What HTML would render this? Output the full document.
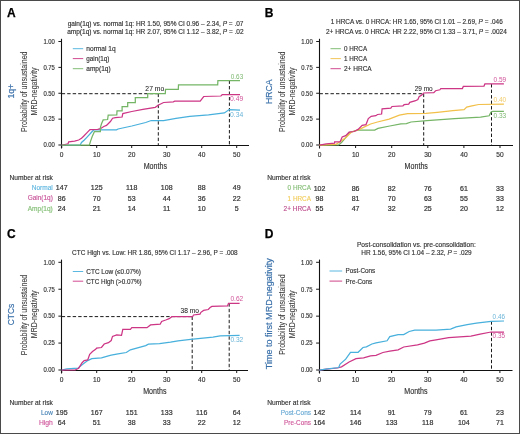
<!DOCTYPE html><html><head><meta charset="utf-8"><style>html,body{margin:0;padding:0;background:#fff;}svg{display:block;filter:blur(0.3px);}</style></head><body>
<svg width="520" height="434" viewBox="0 0 520 434" font-family='"Liberation Sans", sans-serif'>
<rect x="0" y="0" width="520" height="434" fill="#fff"/>
<text x="7.0" y="16.7" font-size="12" fill="#000" stroke="#000" stroke-width="0.25" text-anchor="start" font-weight="bold" >A</text>
<line x1="61.5" y1="38.8" x2="61.5" y2="148.5" stroke="#111" stroke-width="1.1"/>
<line x1="61.0" y1="145.5" x2="249" y2="145.5" stroke="#111" stroke-width="1.1"/>
<line x1="58.400000000000006" y1="145.0" x2="61.7" y2="145.0" stroke="#1a1a1a" stroke-width="1.0"/>
<text x="54.900000000000006" y="147.3" font-size="6.4" fill="#333" stroke="#333" stroke-width="0.15" text-anchor="end" font-weight="normal" textLength="11.5" lengthAdjust="spacingAndGlyphs" >0.00</text>
<line x1="58.400000000000006" y1="119.125" x2="61.7" y2="119.125" stroke="#1a1a1a" stroke-width="1.0"/>
<text x="54.900000000000006" y="121.425" font-size="6.4" fill="#333" stroke="#333" stroke-width="0.15" text-anchor="end" font-weight="normal" textLength="11.5" lengthAdjust="spacingAndGlyphs" >0.25</text>
<line x1="58.400000000000006" y1="93.25" x2="61.7" y2="93.25" stroke="#1a1a1a" stroke-width="1.0"/>
<text x="54.900000000000006" y="95.55" font-size="6.4" fill="#333" stroke="#333" stroke-width="0.15" text-anchor="end" font-weight="normal" textLength="11.5" lengthAdjust="spacingAndGlyphs" >0.50</text>
<line x1="58.400000000000006" y1="67.375" x2="61.7" y2="67.375" stroke="#1a1a1a" stroke-width="1.0"/>
<text x="54.900000000000006" y="69.675" font-size="6.4" fill="#333" stroke="#333" stroke-width="0.15" text-anchor="end" font-weight="normal" textLength="11.5" lengthAdjust="spacingAndGlyphs" >0.75</text>
<line x1="58.400000000000006" y1="41.5" x2="61.7" y2="41.5" stroke="#1a1a1a" stroke-width="1.0"/>
<text x="54.900000000000006" y="43.8" font-size="6.4" fill="#333" stroke="#333" stroke-width="0.15" text-anchor="end" font-weight="normal" textLength="11.5" lengthAdjust="spacingAndGlyphs" >1.00</text>
<line x1="61.7" y1="145.0" x2="61.7" y2="148.0" stroke="#1a1a1a" stroke-width="1.0"/>
<text x="61.7" y="157.1" font-size="6.6" fill="#333" stroke="#333" stroke-width="0.15" text-anchor="middle" font-weight="normal" >0</text>
<line x1="96.7" y1="145.0" x2="96.7" y2="148.0" stroke="#1a1a1a" stroke-width="1.0"/>
<text x="96.7" y="157.1" font-size="6.6" fill="#333" stroke="#333" stroke-width="0.15" text-anchor="middle" font-weight="normal" >10</text>
<line x1="131.7" y1="145.0" x2="131.7" y2="148.0" stroke="#1a1a1a" stroke-width="1.0"/>
<text x="131.7" y="157.1" font-size="6.6" fill="#333" stroke="#333" stroke-width="0.15" text-anchor="middle" font-weight="normal" >20</text>
<line x1="166.7" y1="145.0" x2="166.7" y2="148.0" stroke="#1a1a1a" stroke-width="1.0"/>
<text x="166.7" y="157.1" font-size="6.6" fill="#333" stroke="#333" stroke-width="0.15" text-anchor="middle" font-weight="normal" >30</text>
<line x1="201.7" y1="145.0" x2="201.7" y2="148.0" stroke="#1a1a1a" stroke-width="1.0"/>
<text x="201.7" y="157.1" font-size="6.6" fill="#333" stroke="#333" stroke-width="0.15" text-anchor="middle" font-weight="normal" >40</text>
<line x1="236.7" y1="145.0" x2="236.7" y2="148.0" stroke="#1a1a1a" stroke-width="1.0"/>
<text x="236.7" y="157.1" font-size="6.6" fill="#333" stroke="#333" stroke-width="0.15" text-anchor="middle" font-weight="normal" >50</text>
<text x="155.35" y="169.2" font-size="8.6" fill="#333" stroke="#333" stroke-width="0.15" text-anchor="middle" font-weight="normal" textLength="23.3" lengthAdjust="spacingAndGlyphs" >Months</text>
<text x="155.6" y="25.6" font-size="6.5" fill="#333" stroke="#333" stroke-width="0.15" text-anchor="middle" font-weight="normal" textLength="175.8" lengthAdjust="spacingAndGlyphs" >gain(1q) vs. normal 1q: HR 1.50, 95% CI 0.96 – 2.34, <tspan font-style="italic">P</tspan> = .07</text>
<text x="155.4" y="33.6" font-size="6.5" fill="#333" stroke="#333" stroke-width="0.15" text-anchor="middle" font-weight="normal" textLength="176.4" lengthAdjust="spacingAndGlyphs" >amp(1q) vs. normal 1q: HR 2.07, 95% CI 1.12 – 3.82, <tspan font-style="italic">P</tspan> = .02</text>
<line x1="72.8" y1="48.7" x2="83.2" y2="48.7" stroke="#48B0DC" stroke-width="0.9"/>
<text x="86.3" y="51.1" font-size="6.8" fill="#333" stroke="#333" stroke-width="0.15" text-anchor="start" font-weight="normal" textLength="29.4" lengthAdjust="spacingAndGlyphs" >normal 1q</text>
<line x1="72.8" y1="58.6" x2="83.2" y2="58.6" stroke="#CD3585" stroke-width="0.9"/>
<text x="86.3" y="61.0" font-size="6.8" fill="#333" stroke="#333" stroke-width="0.15" text-anchor="start" font-weight="normal" textLength="23.1" lengthAdjust="spacingAndGlyphs" >gain(1q)</text>
<line x1="72.8" y1="68.7" x2="83.2" y2="68.7" stroke="#74B566" stroke-width="0.9"/>
<text x="86.3" y="71.10000000000001" font-size="6.8" fill="#333" stroke="#333" stroke-width="0.15" text-anchor="start" font-weight="normal" textLength="24.3" lengthAdjust="spacingAndGlyphs" >amp(1q)</text>
<text transform="translate(27.0,91.75) rotate(-90)" x="0" y="0" font-size="8.8" fill="#3a3a3a" stroke="#3a3a3a" stroke-width="0.08" text-anchor="middle" textLength="80.5" lengthAdjust="spacingAndGlyphs">Probability of unsustained</text>
<text transform="translate(37.0,91.5) rotate(-90)" x="0" y="0" font-size="8.8" fill="#3a3a3a" stroke="#3a3a3a" stroke-width="0.08" text-anchor="middle" textLength="47.8" lengthAdjust="spacingAndGlyphs">MRD-negativity</text>
<text transform="translate(14.0,91.2) rotate(-90)" x="0" y="0" font-size="9.0" fill="#3A70AA" stroke="#3A70AA" stroke-width="0.2" text-anchor="middle" textLength="14.6" lengthAdjust="spacingAndGlyphs">1q+</text>
<text x="9.5" y="180.0" font-size="6.8" fill="#333" stroke="#333" stroke-width="0.15" text-anchor="start" font-weight="normal" textLength="43.3" lengthAdjust="spacingAndGlyphs" >Number at risk</text>
<text x="52.8" y="190.2" font-size="6.8" fill="#62B8E0" stroke="#62B8E0" stroke-width="0.15" text-anchor="end" font-weight="normal" textLength="21.1" lengthAdjust="spacingAndGlyphs" >Normal</text>
<text x="61.7" y="190.39999999999998" font-size="7.0" fill="#333" stroke="#333" stroke-width="0.2" text-anchor="middle" font-weight="normal" >147</text>
<text x="96.7" y="190.39999999999998" font-size="7.0" fill="#333" stroke="#333" stroke-width="0.2" text-anchor="middle" font-weight="normal" >125</text>
<text x="131.7" y="190.39999999999998" font-size="7.0" fill="#333" stroke="#333" stroke-width="0.2" text-anchor="middle" font-weight="normal" >118</text>
<text x="166.7" y="190.39999999999998" font-size="7.0" fill="#333" stroke="#333" stroke-width="0.2" text-anchor="middle" font-weight="normal" >108</text>
<text x="201.7" y="190.39999999999998" font-size="7.0" fill="#333" stroke="#333" stroke-width="0.2" text-anchor="middle" font-weight="normal" >88</text>
<text x="236.7" y="190.39999999999998" font-size="7.0" fill="#333" stroke="#333" stroke-width="0.2" text-anchor="middle" font-weight="normal" >49</text>
<text x="52.8" y="200.4" font-size="6.8" fill="#C9559A" stroke="#C9559A" stroke-width="0.15" text-anchor="end" font-weight="normal" textLength="25.1" lengthAdjust="spacingAndGlyphs" >Gain(1q)</text>
<text x="61.7" y="200.6" font-size="7.0" fill="#333" stroke="#333" stroke-width="0.2" text-anchor="middle" font-weight="normal" >86</text>
<text x="96.7" y="200.6" font-size="7.0" fill="#333" stroke="#333" stroke-width="0.2" text-anchor="middle" font-weight="normal" >70</text>
<text x="131.7" y="200.6" font-size="7.0" fill="#333" stroke="#333" stroke-width="0.2" text-anchor="middle" font-weight="normal" >53</text>
<text x="166.7" y="200.6" font-size="7.0" fill="#333" stroke="#333" stroke-width="0.2" text-anchor="middle" font-weight="normal" >44</text>
<text x="201.7" y="200.6" font-size="7.0" fill="#333" stroke="#333" stroke-width="0.2" text-anchor="middle" font-weight="normal" >36</text>
<text x="236.7" y="200.6" font-size="7.0" fill="#333" stroke="#333" stroke-width="0.2" text-anchor="middle" font-weight="normal" >22</text>
<text x="52.8" y="210.6" font-size="6.8" fill="#86C078" stroke="#86C078" stroke-width="0.15" text-anchor="end" font-weight="normal" textLength="25.1" lengthAdjust="spacingAndGlyphs" >Amp(1q)</text>
<text x="61.7" y="210.79999999999998" font-size="7.0" fill="#333" stroke="#333" stroke-width="0.2" text-anchor="middle" font-weight="normal" >24</text>
<text x="96.7" y="210.79999999999998" font-size="7.0" fill="#333" stroke="#333" stroke-width="0.2" text-anchor="middle" font-weight="normal" >21</text>
<text x="131.7" y="210.79999999999998" font-size="7.0" fill="#333" stroke="#333" stroke-width="0.2" text-anchor="middle" font-weight="normal" >14</text>
<text x="166.7" y="210.79999999999998" font-size="7.0" fill="#333" stroke="#333" stroke-width="0.2" text-anchor="middle" font-weight="normal" >11</text>
<text x="201.7" y="210.79999999999998" font-size="7.0" fill="#333" stroke="#333" stroke-width="0.2" text-anchor="middle" font-weight="normal" >10</text>
<text x="236.7" y="210.79999999999998" font-size="7.0" fill="#333" stroke="#333" stroke-width="0.2" text-anchor="middle" font-weight="normal" >5</text>
<line x1="61.7" y1="93.7" x2="158.3" y2="93.7" stroke="#1a1a1a" stroke-width="1.0" stroke-dasharray="3.4,2.1"/>
<line x1="158.3" y1="93.7" x2="158.3" y2="145" stroke="#1a1a1a" stroke-width="1.0" stroke-dasharray="3.4,2.1"/>
<line x1="229.4" y1="80.5" x2="229.4" y2="145" stroke="#1a1a1a" stroke-width="1.0" stroke-dasharray="3.4,2.1"/>
<polyline points="61.7,145.2 80.1,145.2 81.5,142.5 84.3,140 86.6,137.6 92.2,131.5 93.8,129.8 116.5,129.8 118.1,129 131.8,126 145.7,122.5 151.2,120.5 163.6,120.5 176,118.4 189.8,116.3 208.5,114.9 224.4,112.9 229.2,109.6 240,110.1" fill="none" stroke="#48B0DC" stroke-width="1.25" stroke-linejoin="miter"/>
<polyline points="61.7,145.2 64.9,144.5 68,143.8 68.7,141.8 74.6,141.1 78.7,140 81.5,138.3 83.6,136.2 86.6,133.1 90,129.6 97.7,129.3 100.4,128.7 103.8,126.5 106.5,125.4 110.4,121.5 112.6,118.2 115.4,117.7 122.1,117 122.8,113.6 131.8,111.5 142.9,109.4 155.3,107.3 158.1,105.3 163.6,102.5 173.3,101.8 174.7,101.1 200.2,101.1 203.7,96.5 220.9,96 222.3,94.5 240,94.5" fill="none" stroke="#CD3585" stroke-width="1.25" stroke-linejoin="miter"/>
<polyline points="61.7,145 89.4,145 90.5,141.4 92.2,136.5 93.8,133.1 94.4,131.5 100.4,131.5 100.4,127.6 101.5,123.8 103.2,119.9 107.6,119.5 108.2,115.2 116.8,115 117,110.8 122.1,110.8 122.1,106.6 127.7,106.6 127.7,102.5 135.3,102.5 135.3,97.7 147.7,97.7 147.7,93.5 165.3,93.5 165.5,89.4 178.3,89.4 178.5,84.9 217.7,84.9 217.9,80.5 240,80.5" fill="none" stroke="#74B566" stroke-width="1.25" stroke-linejoin="miter"/>
<text x="154.8" y="91.4" font-size="6.6" fill="#222" stroke="#222" stroke-width="0.05" text-anchor="middle" font-weight="normal" textLength="18.9" lengthAdjust="spacingAndGlyphs" >27 mo</text>
<text x="230.8" y="78.6" font-size="6.6" fill="#7DB870" text-anchor="start" font-weight="normal" textLength="12.4" lengthAdjust="spacingAndGlyphs" >0.63</text>
<text x="230.0" y="101.3" font-size="6.6" fill="#D2559A" text-anchor="start" font-weight="normal" textLength="13.2" lengthAdjust="spacingAndGlyphs" >0.49</text>
<text x="230.0" y="117.2" font-size="6.6" fill="#6AB4D8" text-anchor="start" font-weight="normal" textLength="13.2" lengthAdjust="spacingAndGlyphs" >0.34</text>
<text x="264.7" y="16.7" font-size="12" fill="#000" stroke="#000" stroke-width="0.25" text-anchor="start" font-weight="bold" >B</text>
<line x1="319.5" y1="38.8" x2="319.5" y2="148.5" stroke="#111" stroke-width="1.1"/>
<line x1="319.0" y1="145.5" x2="513" y2="145.5" stroke="#111" stroke-width="1.1"/>
<line x1="316.2" y1="145.0" x2="319.5" y2="145.0" stroke="#1a1a1a" stroke-width="1.0"/>
<text x="312.7" y="147.3" font-size="6.4" fill="#333" stroke="#333" stroke-width="0.15" text-anchor="end" font-weight="normal" textLength="11.5" lengthAdjust="spacingAndGlyphs" >0.00</text>
<line x1="316.2" y1="119.125" x2="319.5" y2="119.125" stroke="#1a1a1a" stroke-width="1.0"/>
<text x="312.7" y="121.425" font-size="6.4" fill="#333" stroke="#333" stroke-width="0.15" text-anchor="end" font-weight="normal" textLength="11.5" lengthAdjust="spacingAndGlyphs" >0.25</text>
<line x1="316.2" y1="93.25" x2="319.5" y2="93.25" stroke="#1a1a1a" stroke-width="1.0"/>
<text x="312.7" y="95.55" font-size="6.4" fill="#333" stroke="#333" stroke-width="0.15" text-anchor="end" font-weight="normal" textLength="11.5" lengthAdjust="spacingAndGlyphs" >0.50</text>
<line x1="316.2" y1="67.375" x2="319.5" y2="67.375" stroke="#1a1a1a" stroke-width="1.0"/>
<text x="312.7" y="69.675" font-size="6.4" fill="#333" stroke="#333" stroke-width="0.15" text-anchor="end" font-weight="normal" textLength="11.5" lengthAdjust="spacingAndGlyphs" >0.75</text>
<line x1="316.2" y1="41.5" x2="319.5" y2="41.5" stroke="#1a1a1a" stroke-width="1.0"/>
<text x="312.7" y="43.8" font-size="6.4" fill="#333" stroke="#333" stroke-width="0.15" text-anchor="end" font-weight="normal" textLength="11.5" lengthAdjust="spacingAndGlyphs" >1.00</text>
<line x1="319.5" y1="145.0" x2="319.5" y2="148.0" stroke="#1a1a1a" stroke-width="1.0"/>
<text x="319.5" y="157.1" font-size="6.6" fill="#333" stroke="#333" stroke-width="0.15" text-anchor="middle" font-weight="normal" >0</text>
<line x1="355.6" y1="145.0" x2="355.6" y2="148.0" stroke="#1a1a1a" stroke-width="1.0"/>
<text x="355.6" y="157.1" font-size="6.6" fill="#333" stroke="#333" stroke-width="0.15" text-anchor="middle" font-weight="normal" >10</text>
<line x1="391.7" y1="145.0" x2="391.7" y2="148.0" stroke="#1a1a1a" stroke-width="1.0"/>
<text x="391.7" y="157.1" font-size="6.6" fill="#333" stroke="#333" stroke-width="0.15" text-anchor="middle" font-weight="normal" >20</text>
<line x1="427.8" y1="145.0" x2="427.8" y2="148.0" stroke="#1a1a1a" stroke-width="1.0"/>
<text x="427.8" y="157.1" font-size="6.6" fill="#333" stroke="#333" stroke-width="0.15" text-anchor="middle" font-weight="normal" >30</text>
<line x1="463.9" y1="145.0" x2="463.9" y2="148.0" stroke="#1a1a1a" stroke-width="1.0"/>
<text x="463.9" y="157.1" font-size="6.6" fill="#333" stroke="#333" stroke-width="0.15" text-anchor="middle" font-weight="normal" >40</text>
<line x1="500.0" y1="145.0" x2="500.0" y2="148.0" stroke="#1a1a1a" stroke-width="1.0"/>
<text x="500.0" y="157.1" font-size="6.6" fill="#333" stroke="#333" stroke-width="0.15" text-anchor="middle" font-weight="normal" >50</text>
<text x="416.25" y="169.2" font-size="8.6" fill="#333" stroke="#333" stroke-width="0.15" text-anchor="middle" font-weight="normal" textLength="23.3" lengthAdjust="spacingAndGlyphs" >Months</text>
<text x="416.7" y="23.6" font-size="6.5" fill="#333" stroke="#333" stroke-width="0.15" text-anchor="middle" font-weight="normal" textLength="172.1" lengthAdjust="spacingAndGlyphs" >1 HRCA vs. 0 HRCA: HR 1.65, 95% CI 1.01 – 2.69, <tspan font-style="italic">P</tspan> = .046</text>
<text x="416.4" y="33.6" font-size="6.5" fill="#333" stroke="#333" stroke-width="0.15" text-anchor="middle" font-weight="normal" textLength="180.8" lengthAdjust="spacingAndGlyphs" >2+ HRCA vs. 0 HRCA: HR 2.22, 95% CI 1.33 – 3.71, <tspan font-style="italic">P</tspan> = .0024</text>
<line x1="330.5" y1="48.7" x2="340.9" y2="48.7" stroke="#74B566" stroke-width="0.9"/>
<text x="344.0" y="51.1" font-size="6.8" fill="#333" stroke="#333" stroke-width="0.15" text-anchor="start" font-weight="normal" textLength="23.1" lengthAdjust="spacingAndGlyphs" >0 HRCA</text>
<line x1="330.5" y1="58.6" x2="340.9" y2="58.6" stroke="#F2C04A" stroke-width="0.9"/>
<text x="344.0" y="61.0" font-size="6.8" fill="#333" stroke="#333" stroke-width="0.15" text-anchor="start" font-weight="normal" textLength="23.1" lengthAdjust="spacingAndGlyphs" >1 HRCA</text>
<line x1="330.5" y1="68.7" x2="340.9" y2="68.7" stroke="#CD3585" stroke-width="0.9"/>
<text x="344.0" y="71.10000000000001" font-size="6.8" fill="#333" stroke="#333" stroke-width="0.15" text-anchor="start" font-weight="normal" textLength="27.7" lengthAdjust="spacingAndGlyphs" >2+ HRCA</text>
<text transform="translate(285.1,91.75) rotate(-90)" x="0" y="0" font-size="8.8" fill="#3a3a3a" stroke="#3a3a3a" stroke-width="0.08" text-anchor="middle" textLength="80.5" lengthAdjust="spacingAndGlyphs">Probability of unsustained</text>
<text transform="translate(295.1,91.5) rotate(-90)" x="0" y="0" font-size="8.8" fill="#3a3a3a" stroke="#3a3a3a" stroke-width="0.08" text-anchor="middle" textLength="47.8" lengthAdjust="spacingAndGlyphs">MRD-negativity</text>
<text transform="translate(272.4,91.7) rotate(-90)" x="0" y="0" font-size="9.0" fill="#3A70AA" stroke="#3A70AA" stroke-width="0.2" text-anchor="middle" textLength="24.5" lengthAdjust="spacingAndGlyphs">HRCA</text>
<text x="267.2" y="180.2" font-size="6.8" fill="#333" stroke="#333" stroke-width="0.15" text-anchor="start" font-weight="normal" textLength="43.3" lengthAdjust="spacingAndGlyphs" >Number at risk</text>
<text x="311.0" y="190.39999999999998" font-size="6.8" fill="#86BE78" stroke="#86BE78" stroke-width="0.15" text-anchor="end" font-weight="normal" textLength="23.4" lengthAdjust="spacingAndGlyphs" >0 HRCA</text>
<text x="319.5" y="190.59999999999997" font-size="7.0" fill="#333" stroke="#333" stroke-width="0.2" text-anchor="middle" font-weight="normal" >102</text>
<text x="355.6" y="190.59999999999997" font-size="7.0" fill="#333" stroke="#333" stroke-width="0.2" text-anchor="middle" font-weight="normal" >86</text>
<text x="391.7" y="190.59999999999997" font-size="7.0" fill="#333" stroke="#333" stroke-width="0.2" text-anchor="middle" font-weight="normal" >82</text>
<text x="427.8" y="190.59999999999997" font-size="7.0" fill="#333" stroke="#333" stroke-width="0.2" text-anchor="middle" font-weight="normal" >76</text>
<text x="463.9" y="190.59999999999997" font-size="7.0" fill="#333" stroke="#333" stroke-width="0.2" text-anchor="middle" font-weight="normal" >61</text>
<text x="500.0" y="190.59999999999997" font-size="7.0" fill="#333" stroke="#333" stroke-width="0.2" text-anchor="middle" font-weight="normal" >33</text>
<text x="311.0" y="200.6" font-size="6.8" fill="#F2CD5E" stroke="#F2CD5E" stroke-width="0.15" text-anchor="end" font-weight="normal" textLength="23.4" lengthAdjust="spacingAndGlyphs" >1 HRCA</text>
<text x="319.5" y="200.79999999999998" font-size="7.0" fill="#333" stroke="#333" stroke-width="0.2" text-anchor="middle" font-weight="normal" >98</text>
<text x="355.6" y="200.79999999999998" font-size="7.0" fill="#333" stroke="#333" stroke-width="0.2" text-anchor="middle" font-weight="normal" >81</text>
<text x="391.7" y="200.79999999999998" font-size="7.0" fill="#333" stroke="#333" stroke-width="0.2" text-anchor="middle" font-weight="normal" >70</text>
<text x="427.8" y="200.79999999999998" font-size="7.0" fill="#333" stroke="#333" stroke-width="0.2" text-anchor="middle" font-weight="normal" >63</text>
<text x="463.9" y="200.79999999999998" font-size="7.0" fill="#333" stroke="#333" stroke-width="0.2" text-anchor="middle" font-weight="normal" >55</text>
<text x="500.0" y="200.79999999999998" font-size="7.0" fill="#333" stroke="#333" stroke-width="0.2" text-anchor="middle" font-weight="normal" >33</text>
<text x="311.0" y="210.79999999999998" font-size="6.8" fill="#BE4F8E" stroke="#BE4F8E" stroke-width="0.15" text-anchor="end" font-weight="normal" textLength="27.4" lengthAdjust="spacingAndGlyphs" >2+ HRCA</text>
<text x="319.5" y="210.99999999999997" font-size="7.0" fill="#333" stroke="#333" stroke-width="0.2" text-anchor="middle" font-weight="normal" >55</text>
<text x="355.6" y="210.99999999999997" font-size="7.0" fill="#333" stroke="#333" stroke-width="0.2" text-anchor="middle" font-weight="normal" >47</text>
<text x="391.7" y="210.99999999999997" font-size="7.0" fill="#333" stroke="#333" stroke-width="0.2" text-anchor="middle" font-weight="normal" >32</text>
<text x="427.8" y="210.99999999999997" font-size="7.0" fill="#333" stroke="#333" stroke-width="0.2" text-anchor="middle" font-weight="normal" >25</text>
<text x="463.9" y="210.99999999999997" font-size="7.0" fill="#333" stroke="#333" stroke-width="0.2" text-anchor="middle" font-weight="normal" >20</text>
<text x="500.0" y="210.99999999999997" font-size="7.0" fill="#333" stroke="#333" stroke-width="0.2" text-anchor="middle" font-weight="normal" >12</text>
<line x1="319.5" y1="93.7" x2="423.7" y2="93.7" stroke="#1a1a1a" stroke-width="1.0" stroke-dasharray="3.4,2.1"/>
<line x1="423.7" y1="93.7" x2="423.7" y2="145" stroke="#1a1a1a" stroke-width="1.0" stroke-dasharray="3.4,2.1"/>
<line x1="491.5" y1="84.1" x2="491.5" y2="145" stroke="#1a1a1a" stroke-width="1.0" stroke-dasharray="3.4,2.1"/>
<polyline points="319.5,145.2 338.7,145 341.5,142.5 345.7,137.7 349.8,132.2 358.1,130.1 374.7,130.1 378,128.4 389.8,126 400.9,123.9 406.4,123.6 411,122 426.9,120.6 454.6,118.6 480.6,117.2 489.2,115.8 490.9,112.3 492.7,111.3 503.9,111.3" fill="none" stroke="#74B566" stroke-width="1.25" stroke-linejoin="miter"/>
<polyline points="319.5,145.2 336,144.3 340.1,141.8 345.7,137.7 351.2,132.2 359.5,129.4 365,126.6 370.6,124 377.5,122 389.1,119.1 399.4,115.1 407.5,113.6 426,113.4 437.3,112.3 452.9,110.6 464.1,109.7 466.7,107.1 471.9,105.8 478.8,104.5 503.9,104.1" fill="none" stroke="#F2C04A" stroke-width="1.25" stroke-linejoin="miter"/>
<polyline points="319.5,145.2 326.3,143.9 334.6,143.2 334.6,141.8 340.1,141.8 342.2,137 345.7,135.6 349.1,132.2 354,131.5 358.1,129.4 362.2,125.3 366,124.6 367.2,121.5 368.3,118.6 371.2,116.3 375.8,115.7 377.5,114.5 381.6,114 382.1,108.8 390.8,108.2 392,106.5 402.9,105.9 404.1,104.7 408.7,104.1 409.8,102.4 415.6,100.7 417.9,99.5 419.1,96.7 421.9,94.9 423.7,93.0 433.8,92.6 435.6,90.7 439.9,89.8 440.8,88.5 462.4,88.5 463.3,86.4 484,86.1 484.9,83.9 503.9,83.9" fill="none" stroke="#CD3585" stroke-width="1.25" stroke-linejoin="miter"/>
<text x="423.7" y="90.5" font-size="6.6" fill="#222" stroke="#222" stroke-width="0.05" text-anchor="middle" font-weight="normal" textLength="18.0" lengthAdjust="spacingAndGlyphs" >29 mo</text>
<text x="493.5" y="81.8" font-size="6.6" fill="#D2559A" text-anchor="start" font-weight="normal" textLength="12.7" lengthAdjust="spacingAndGlyphs" >0.59</text>
<text x="493.5" y="101.8" font-size="6.6" fill="#F2CC6A" text-anchor="start" font-weight="normal" textLength="12.7" lengthAdjust="spacingAndGlyphs" >0.40</text>
<text x="493.5" y="118.4" font-size="6.6" fill="#7DB870" text-anchor="start" font-weight="normal" textLength="12.7" lengthAdjust="spacingAndGlyphs" >0.33</text>
<text x="7.0" y="237.7" font-size="12" fill="#000" stroke="#000" stroke-width="0.25" text-anchor="start" font-weight="bold" >C</text>
<line x1="61.5" y1="259.6" x2="61.5" y2="373.5" stroke="#111" stroke-width="1.1"/>
<line x1="61.0" y1="370.5" x2="248" y2="370.5" stroke="#111" stroke-width="1.1"/>
<line x1="58.400000000000006" y1="370.0" x2="61.7" y2="370.0" stroke="#1a1a1a" stroke-width="1.0"/>
<text x="54.900000000000006" y="372.3" font-size="6.4" fill="#333" stroke="#333" stroke-width="0.15" text-anchor="end" font-weight="normal" textLength="11.5" lengthAdjust="spacingAndGlyphs" >0.00</text>
<line x1="58.400000000000006" y1="343.075" x2="61.7" y2="343.075" stroke="#1a1a1a" stroke-width="1.0"/>
<text x="54.900000000000006" y="345.375" font-size="6.4" fill="#333" stroke="#333" stroke-width="0.15" text-anchor="end" font-weight="normal" textLength="11.5" lengthAdjust="spacingAndGlyphs" >0.25</text>
<line x1="58.400000000000006" y1="316.15" x2="61.7" y2="316.15" stroke="#1a1a1a" stroke-width="1.0"/>
<text x="54.900000000000006" y="318.45" font-size="6.4" fill="#333" stroke="#333" stroke-width="0.15" text-anchor="end" font-weight="normal" textLength="11.5" lengthAdjust="spacingAndGlyphs" >0.50</text>
<line x1="58.400000000000006" y1="289.225" x2="61.7" y2="289.225" stroke="#1a1a1a" stroke-width="1.0"/>
<text x="54.900000000000006" y="291.52500000000003" font-size="6.4" fill="#333" stroke="#333" stroke-width="0.15" text-anchor="end" font-weight="normal" textLength="11.5" lengthAdjust="spacingAndGlyphs" >0.75</text>
<line x1="58.400000000000006" y1="262.3" x2="61.7" y2="262.3" stroke="#1a1a1a" stroke-width="1.0"/>
<text x="54.900000000000006" y="264.6" font-size="6.4" fill="#333" stroke="#333" stroke-width="0.15" text-anchor="end" font-weight="normal" textLength="11.5" lengthAdjust="spacingAndGlyphs" >1.00</text>
<line x1="61.7" y1="370.0" x2="61.7" y2="373.0" stroke="#1a1a1a" stroke-width="1.0"/>
<text x="61.7" y="382.1" font-size="6.6" fill="#333" stroke="#333" stroke-width="0.15" text-anchor="middle" font-weight="normal" >0</text>
<line x1="96.7" y1="370.0" x2="96.7" y2="373.0" stroke="#1a1a1a" stroke-width="1.0"/>
<text x="96.7" y="382.1" font-size="6.6" fill="#333" stroke="#333" stroke-width="0.15" text-anchor="middle" font-weight="normal" >10</text>
<line x1="131.7" y1="370.0" x2="131.7" y2="373.0" stroke="#1a1a1a" stroke-width="1.0"/>
<text x="131.7" y="382.1" font-size="6.6" fill="#333" stroke="#333" stroke-width="0.15" text-anchor="middle" font-weight="normal" >20</text>
<line x1="166.7" y1="370.0" x2="166.7" y2="373.0" stroke="#1a1a1a" stroke-width="1.0"/>
<text x="166.7" y="382.1" font-size="6.6" fill="#333" stroke="#333" stroke-width="0.15" text-anchor="middle" font-weight="normal" >30</text>
<line x1="201.7" y1="370.0" x2="201.7" y2="373.0" stroke="#1a1a1a" stroke-width="1.0"/>
<text x="201.7" y="382.1" font-size="6.6" fill="#333" stroke="#333" stroke-width="0.15" text-anchor="middle" font-weight="normal" >40</text>
<line x1="236.7" y1="370.0" x2="236.7" y2="373.0" stroke="#1a1a1a" stroke-width="1.0"/>
<text x="236.7" y="382.1" font-size="6.6" fill="#333" stroke="#333" stroke-width="0.15" text-anchor="middle" font-weight="normal" >50</text>
<text x="154.85" y="394.2" font-size="8.6" fill="#333" stroke="#333" stroke-width="0.15" text-anchor="middle" font-weight="normal" textLength="23.3" lengthAdjust="spacingAndGlyphs" >Months</text>
<text x="154.9" y="254.8" font-size="6.5" fill="#333" stroke="#333" stroke-width="0.15" text-anchor="middle" font-weight="normal" textLength="165.6" lengthAdjust="spacingAndGlyphs" >CTC High vs. Low: HR 1.86, 95% CI 1.17 – 2.96, P = .008</text>
<line x1="72.8" y1="271.5" x2="83.2" y2="271.5" stroke="#48B0DC" stroke-width="0.9"/>
<text x="86.3" y="273.9" font-size="6.8" fill="#333" stroke="#333" stroke-width="0.15" text-anchor="start" font-weight="normal" textLength="54.7" lengthAdjust="spacingAndGlyphs" >CTC Low (≤0.07%)</text>
<line x1="72.8" y1="281.2" x2="83.2" y2="281.2" stroke="#CD3585" stroke-width="0.9"/>
<text x="86.3" y="283.59999999999997" font-size="6.8" fill="#333" stroke="#333" stroke-width="0.15" text-anchor="start" font-weight="normal" textLength="55.4" lengthAdjust="spacingAndGlyphs" >CTC High (&gt;0.07%)</text>
<text transform="translate(27.1,315.0) rotate(-90)" x="0" y="0" font-size="8.8" fill="#3a3a3a" stroke="#3a3a3a" stroke-width="0.08" text-anchor="middle" textLength="80.5" lengthAdjust="spacingAndGlyphs">Probability of unsustained</text>
<text transform="translate(37.2,314.3) rotate(-90)" x="0" y="0" font-size="8.8" fill="#3a3a3a" stroke="#3a3a3a" stroke-width="0.08" text-anchor="middle" textLength="47.8" lengthAdjust="spacingAndGlyphs">MRD-negativity</text>
<text transform="translate(14.1,314.5) rotate(-90)" x="0" y="0" font-size="9.0" fill="#3A70AA" stroke="#3A70AA" stroke-width="0.2" text-anchor="middle" textLength="21.5" lengthAdjust="spacingAndGlyphs">CTCs</text>
<text x="9.5" y="404.7" font-size="6.8" fill="#333" stroke="#333" stroke-width="0.15" text-anchor="start" font-weight="normal" textLength="43.3" lengthAdjust="spacingAndGlyphs" >Number at risk</text>
<text x="52.8" y="414.9" font-size="6.8" fill="#4C86B8" stroke="#4C86B8" stroke-width="0.15" text-anchor="end" font-weight="normal" textLength="11.8" lengthAdjust="spacingAndGlyphs" >Low</text>
<text x="61.7" y="415.09999999999997" font-size="7.0" fill="#333" stroke="#333" stroke-width="0.2" text-anchor="middle" font-weight="normal" >195</text>
<text x="96.7" y="415.09999999999997" font-size="7.0" fill="#333" stroke="#333" stroke-width="0.2" text-anchor="middle" font-weight="normal" >167</text>
<text x="131.7" y="415.09999999999997" font-size="7.0" fill="#333" stroke="#333" stroke-width="0.2" text-anchor="middle" font-weight="normal" >151</text>
<text x="166.7" y="415.09999999999997" font-size="7.0" fill="#333" stroke="#333" stroke-width="0.2" text-anchor="middle" font-weight="normal" >133</text>
<text x="201.7" y="415.09999999999997" font-size="7.0" fill="#333" stroke="#333" stroke-width="0.2" text-anchor="middle" font-weight="normal" >116</text>
<text x="236.7" y="415.09999999999997" font-size="7.0" fill="#333" stroke="#333" stroke-width="0.2" text-anchor="middle" font-weight="normal" >64</text>
<text x="52.8" y="425.09999999999997" font-size="6.8" fill="#D0589C" stroke="#D0589C" stroke-width="0.15" text-anchor="end" font-weight="normal" textLength="13.9" lengthAdjust="spacingAndGlyphs" >High</text>
<text x="61.7" y="425.29999999999995" font-size="7.0" fill="#333" stroke="#333" stroke-width="0.2" text-anchor="middle" font-weight="normal" >64</text>
<text x="96.7" y="425.29999999999995" font-size="7.0" fill="#333" stroke="#333" stroke-width="0.2" text-anchor="middle" font-weight="normal" >51</text>
<text x="131.7" y="425.29999999999995" font-size="7.0" fill="#333" stroke="#333" stroke-width="0.2" text-anchor="middle" font-weight="normal" >38</text>
<text x="166.7" y="425.29999999999995" font-size="7.0" fill="#333" stroke="#333" stroke-width="0.2" text-anchor="middle" font-weight="normal" >33</text>
<text x="201.7" y="425.29999999999995" font-size="7.0" fill="#333" stroke="#333" stroke-width="0.2" text-anchor="middle" font-weight="normal" >22</text>
<text x="236.7" y="425.29999999999995" font-size="7.0" fill="#333" stroke="#333" stroke-width="0.2" text-anchor="middle" font-weight="normal" >12</text>
<line x1="61.7" y1="316.6" x2="192.2" y2="316.6" stroke="#1a1a1a" stroke-width="1.0" stroke-dasharray="3.4,2.1"/>
<line x1="192.2" y1="316.6" x2="192.2" y2="370" stroke="#1a1a1a" stroke-width="1.0" stroke-dasharray="3.4,2.1"/>
<line x1="229.2" y1="303.3" x2="229.2" y2="370" stroke="#1a1a1a" stroke-width="1.0" stroke-dasharray="3.4,2.1"/>
<polyline points="61.7,370.2 66.9,368.9 78,368.2 82.1,364.8 87.7,360.6 91.8,358.6 101.5,357.9 108.4,355.8 111.2,355.1 118,353.9 126.3,352.5 130.4,349.8 145.7,345.6 148.4,344.2 159.5,343.6 170.5,342.2 178,340.8 190.7,339.4 212.9,337.1 220.2,335.9 239.6,335.3" fill="none" stroke="#48B0DC" stroke-width="1.25" stroke-linejoin="miter"/>
<polyline points="61.7,370.2 75.2,370 78.7,368.2 82.1,362.7 84.2,360.6 87.7,359.9 89.7,354.4 92.5,351.6 95.3,349.6 96.6,348.2 101.5,347.5 104.2,344 108.4,342.7 111.2,340.6 112.5,336.4 116.7,335 121.5,335.3 122.8,329.3 130.4,329.3 131.8,327.7 147,327.7 150.5,324.9 160.2,324.2 161.6,321.4 165.7,320 169.2,318.7 171.9,316.7 192.6,316.7 193.5,315 200,314.1 200.9,312.3 203.6,310.4 208.3,309.5 210.1,307.6 211.9,306.4 227.6,305.8 228.5,303.3 239.6,303.3" fill="none" stroke="#CD3585" stroke-width="1.25" stroke-linejoin="miter"/>
<text x="189.8" y="313.3" font-size="6.6" fill="#222" stroke="#222" stroke-width="0.05" text-anchor="middle" font-weight="normal" textLength="18.4" lengthAdjust="spacingAndGlyphs" >38 mo</text>
<text x="230.4" y="301.3" font-size="6.6" fill="#D2559A" text-anchor="start" font-weight="normal" textLength="12.9" lengthAdjust="spacingAndGlyphs" >0.62</text>
<text x="230.4" y="342.2" font-size="6.6" fill="#6AB4D8" text-anchor="start" font-weight="normal" textLength="12.9" lengthAdjust="spacingAndGlyphs" >0.32</text>
<text x="264.7" y="237.7" font-size="12" fill="#000" stroke="#000" stroke-width="0.25" text-anchor="start" font-weight="bold" >D</text>
<line x1="319.5" y1="259.6" x2="319.5" y2="373.5" stroke="#111" stroke-width="1.1"/>
<line x1="319.0" y1="370.5" x2="512.5" y2="370.5" stroke="#111" stroke-width="1.1"/>
<line x1="316.09999999999997" y1="370.0" x2="319.4" y2="370.0" stroke="#1a1a1a" stroke-width="1.0"/>
<text x="312.59999999999997" y="372.3" font-size="6.4" fill="#333" stroke="#333" stroke-width="0.15" text-anchor="end" font-weight="normal" textLength="11.5" lengthAdjust="spacingAndGlyphs" >0.00</text>
<line x1="316.09999999999997" y1="343.075" x2="319.4" y2="343.075" stroke="#1a1a1a" stroke-width="1.0"/>
<text x="312.59999999999997" y="345.375" font-size="6.4" fill="#333" stroke="#333" stroke-width="0.15" text-anchor="end" font-weight="normal" textLength="11.5" lengthAdjust="spacingAndGlyphs" >0.25</text>
<line x1="316.09999999999997" y1="316.15" x2="319.4" y2="316.15" stroke="#1a1a1a" stroke-width="1.0"/>
<text x="312.59999999999997" y="318.45" font-size="6.4" fill="#333" stroke="#333" stroke-width="0.15" text-anchor="end" font-weight="normal" textLength="11.5" lengthAdjust="spacingAndGlyphs" >0.50</text>
<line x1="316.09999999999997" y1="289.225" x2="319.4" y2="289.225" stroke="#1a1a1a" stroke-width="1.0"/>
<text x="312.59999999999997" y="291.52500000000003" font-size="6.4" fill="#333" stroke="#333" stroke-width="0.15" text-anchor="end" font-weight="normal" textLength="11.5" lengthAdjust="spacingAndGlyphs" >0.75</text>
<line x1="316.09999999999997" y1="262.3" x2="319.4" y2="262.3" stroke="#1a1a1a" stroke-width="1.0"/>
<text x="312.59999999999997" y="264.6" font-size="6.4" fill="#333" stroke="#333" stroke-width="0.15" text-anchor="end" font-weight="normal" textLength="11.5" lengthAdjust="spacingAndGlyphs" >1.00</text>
<line x1="319.4" y1="370.0" x2="319.4" y2="373.0" stroke="#1a1a1a" stroke-width="1.0"/>
<text x="319.4" y="382.1" font-size="6.6" fill="#333" stroke="#333" stroke-width="0.15" text-anchor="middle" font-weight="normal" >0</text>
<line x1="355.5" y1="370.0" x2="355.5" y2="373.0" stroke="#1a1a1a" stroke-width="1.0"/>
<text x="355.5" y="382.1" font-size="6.6" fill="#333" stroke="#333" stroke-width="0.15" text-anchor="middle" font-weight="normal" >10</text>
<line x1="391.59999999999997" y1="370.0" x2="391.59999999999997" y2="373.0" stroke="#1a1a1a" stroke-width="1.0"/>
<text x="391.59999999999997" y="382.1" font-size="6.6" fill="#333" stroke="#333" stroke-width="0.15" text-anchor="middle" font-weight="normal" >20</text>
<line x1="427.7" y1="370.0" x2="427.7" y2="373.0" stroke="#1a1a1a" stroke-width="1.0"/>
<text x="427.7" y="382.1" font-size="6.6" fill="#333" stroke="#333" stroke-width="0.15" text-anchor="middle" font-weight="normal" >30</text>
<line x1="463.79999999999995" y1="370.0" x2="463.79999999999995" y2="373.0" stroke="#1a1a1a" stroke-width="1.0"/>
<text x="463.79999999999995" y="382.1" font-size="6.6" fill="#333" stroke="#333" stroke-width="0.15" text-anchor="middle" font-weight="normal" >40</text>
<line x1="499.9" y1="370.0" x2="499.9" y2="373.0" stroke="#1a1a1a" stroke-width="1.0"/>
<text x="499.9" y="382.1" font-size="6.6" fill="#333" stroke="#333" stroke-width="0.15" text-anchor="middle" font-weight="normal" >50</text>
<text x="415.95" y="394.2" font-size="8.6" fill="#333" stroke="#333" stroke-width="0.15" text-anchor="middle" font-weight="normal" textLength="23.3" lengthAdjust="spacingAndGlyphs" >Months</text>
<text x="416.4" y="246.7" font-size="6.5" fill="#333" stroke="#333" stroke-width="0.15" text-anchor="middle" font-weight="normal" textLength="118.9" lengthAdjust="spacingAndGlyphs" >Post-consolidation vs. pre-consolidation:</text>
<text x="416.5" y="254.8" font-size="6.5" fill="#333" stroke="#333" stroke-width="0.15" text-anchor="middle" font-weight="normal" textLength="110.4" lengthAdjust="spacingAndGlyphs" >HR 1.56, 95% CI 1.04 – 2.32, <tspan font-style="italic">P</tspan> = .029</text>
<line x1="329.5" y1="271.0" x2="342.2" y2="271.0" stroke="#48B0DC" stroke-width="0.9"/>
<text x="345.6" y="273.4" font-size="6.8" fill="#333" stroke="#333" stroke-width="0.15" text-anchor="start" font-weight="normal" textLength="29.7" lengthAdjust="spacingAndGlyphs" >Post-Cons</text>
<line x1="329.5" y1="281.1" x2="342.2" y2="281.1" stroke="#C8307A" stroke-width="0.9"/>
<text x="345.6" y="283.5" font-size="6.8" fill="#333" stroke="#333" stroke-width="0.15" text-anchor="start" font-weight="normal" textLength="26.6" lengthAdjust="spacingAndGlyphs" >Pre-Cons</text>
<text transform="translate(285.0,314.6) rotate(-90)" x="0" y="0" font-size="8.8" fill="#3a3a3a" stroke="#3a3a3a" stroke-width="0.08" text-anchor="middle" textLength="80.5" lengthAdjust="spacingAndGlyphs">Probability of unsustained</text>
<text transform="translate(295.0,314.3) rotate(-90)" x="0" y="0" font-size="8.8" fill="#3a3a3a" stroke="#3a3a3a" stroke-width="0.08" text-anchor="middle" textLength="47.8" lengthAdjust="spacingAndGlyphs">MRD-negativity</text>
<text transform="translate(272.0,313.7) rotate(-90)" x="0" y="0" font-size="9.0" fill="#3A70AA" stroke="#3A70AA" stroke-width="0.2" text-anchor="middle" textLength="111.0" lengthAdjust="spacingAndGlyphs">Time to first MRD-negativity</text>
<text x="267.2" y="404.7" font-size="6.8" fill="#333" stroke="#333" stroke-width="0.15" text-anchor="start" font-weight="normal" textLength="43.3" lengthAdjust="spacingAndGlyphs" >Number at risk</text>
<text x="311.0" y="414.9" font-size="6.8" fill="#6AAAD4" stroke="#6AAAD4" stroke-width="0.15" text-anchor="end" font-weight="normal" textLength="30.3" lengthAdjust="spacingAndGlyphs" >Post-Cons</text>
<text x="319.4" y="415.09999999999997" font-size="7.0" fill="#333" stroke="#333" stroke-width="0.2" text-anchor="middle" font-weight="normal" >142</text>
<text x="355.5" y="415.09999999999997" font-size="7.0" fill="#333" stroke="#333" stroke-width="0.2" text-anchor="middle" font-weight="normal" >114</text>
<text x="391.59999999999997" y="415.09999999999997" font-size="7.0" fill="#333" stroke="#333" stroke-width="0.2" text-anchor="middle" font-weight="normal" >91</text>
<text x="427.7" y="415.09999999999997" font-size="7.0" fill="#333" stroke="#333" stroke-width="0.2" text-anchor="middle" font-weight="normal" >79</text>
<text x="463.79999999999995" y="415.09999999999997" font-size="7.0" fill="#333" stroke="#333" stroke-width="0.2" text-anchor="middle" font-weight="normal" >61</text>
<text x="499.9" y="415.09999999999997" font-size="7.0" fill="#333" stroke="#333" stroke-width="0.2" text-anchor="middle" font-weight="normal" >23</text>
<text x="311.0" y="425.09999999999997" font-size="6.8" fill="#D0589A" stroke="#D0589A" stroke-width="0.15" text-anchor="end" font-weight="normal" textLength="26.9" lengthAdjust="spacingAndGlyphs" >Pre-Cons</text>
<text x="319.4" y="425.29999999999995" font-size="7.0" fill="#333" stroke="#333" stroke-width="0.2" text-anchor="middle" font-weight="normal" >164</text>
<text x="355.5" y="425.29999999999995" font-size="7.0" fill="#333" stroke="#333" stroke-width="0.2" text-anchor="middle" font-weight="normal" >146</text>
<text x="391.59999999999997" y="425.29999999999995" font-size="7.0" fill="#333" stroke="#333" stroke-width="0.2" text-anchor="middle" font-weight="normal" >133</text>
<text x="427.7" y="425.29999999999995" font-size="7.0" fill="#333" stroke="#333" stroke-width="0.2" text-anchor="middle" font-weight="normal" >118</text>
<text x="463.79999999999995" y="425.29999999999995" font-size="7.0" fill="#333" stroke="#333" stroke-width="0.2" text-anchor="middle" font-weight="normal" >104</text>
<text x="499.9" y="425.29999999999995" font-size="7.0" fill="#333" stroke="#333" stroke-width="0.2" text-anchor="middle" font-weight="normal" >71</text>
<line x1="491.5" y1="321.3" x2="491.5" y2="370" stroke="#1a1a1a" stroke-width="1.0" stroke-dasharray="3.4,2.1"/>
<polyline points="319.4,370.2 326.3,369.2 337.4,368 341.5,366.8 349.1,362 356,358.6 363.6,357.9 370.5,355.8 376,355.3 382.9,352.5 389.8,351.2 398.1,349.8 403.7,347 417.5,344.9 424.4,343.1 429.9,340.8 436,339.8 448.7,337.6 470.9,336.1 480.1,334.2 491.1,332 504,332" fill="none" stroke="#CD3585" stroke-width="1.25" stroke-linejoin="miter"/>
<polyline points="319.4,370.2 327.7,368.9 338.7,367.5 340.1,364.1 345.7,359.2 350.5,352.3 358.1,352.3 363,347.5 366.4,346.8 371.9,344 376,342.9 387.1,340.8 389.8,336.6 398.1,334.6 403.7,334.6 409.2,331.5 414.7,330.1 436,330.1 450.6,329.1 456.1,326.9 467.2,324.7 476.4,323.2 491.1,321.3 504,321" fill="none" stroke="#48B0DC" stroke-width="1.25" stroke-linejoin="miter"/>
<text x="492.6" y="319.0" font-size="6.6" fill="#6AB4D8" text-anchor="start" font-weight="normal" textLength="12.4" lengthAdjust="spacingAndGlyphs" >0.46</text>
<text x="492.6" y="338.4" font-size="6.6" fill="#D2559A" text-anchor="start" font-weight="normal" textLength="12.4" lengthAdjust="spacingAndGlyphs" >0.35</text>
<rect x="0.5" y="0.5" width="519" height="433" fill="none" stroke="#4a4a4a" stroke-width="1"/>
</svg></body></html>
